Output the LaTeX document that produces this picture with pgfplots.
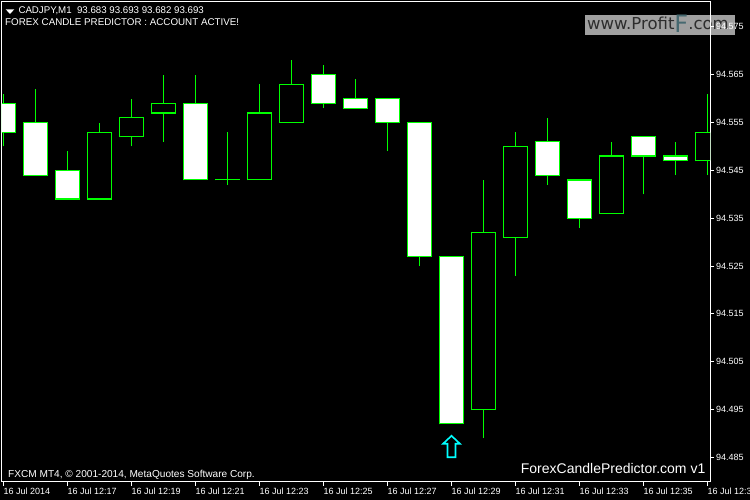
\documentclass[border=0pt]{standalone}
\usepackage{fontspec}
\setmainfont{Liberation Sans}
\newfontfamily\dejavu{DejaVu Sans}
\usepackage{pgfplots}
\usepackage{pgfplotstable}
\pgfplotsset{compat=1.18}

\definecolor{candlegreen}{RGB}{0,255,0}
\definecolor{logogray}{RGB}{160,160,160}
\definecolor{logotext}{RGB}{45,45,45}
\definecolor{logoteal}{RGB}{70,105,112}
\definecolor{arrowcyan}{RGB}{0,255,255}

\pgfdeclareplotmark{uparr}{%
  \pgfpathmoveto{\pgfpoint{0pt}{11pt}}%
  \pgfpathlineto{\pgfpoint{8.5pt}{3pt}}%
  \pgfpathlineto{\pgfpoint{4pt}{3pt}}%
  \pgfpathlineto{\pgfpoint{4pt}{-10.5pt}}%
  \pgfpathlineto{\pgfpoint{-4pt}{-10.5pt}}%
  \pgfpathlineto{\pgfpoint{-4pt}{3pt}}%
  \pgfpathlineto{\pgfpoint{-8.5pt}{3pt}}%
  \pgfpathclose
  \pgfusepathqstroke}

% k = bar index (12:15 = 0), L = low, BL/BH = body low/high, H = high
\pgfplotstableread{
k  L      BL     BH     H
0  94.550 94.553 94.559 94.561
1  94.544 94.544 94.555 94.562
2  94.539 94.539 94.545 94.549
6  94.543 94.543 94.559 94.565
10 94.558 94.559 94.565 94.567
11 94.558 94.558 94.560 94.564
12 94.549 94.555 94.560 94.560
13 94.525 94.527 94.555 94.555
14 94.492 94.492 94.527 94.527
17 94.542 94.544 94.551 94.556
18 94.533 94.535 94.543 94.543
20 94.540 94.548 94.552 94.552
21 94.544 94.547 94.548 94.551
}\bear
\pgfplotstableread{
k  L      BL     BH     H
3  94.539 94.539 94.553 94.555
4  94.550 94.552 94.556 94.560
5  94.551 94.557 94.559 94.565
8  94.543 94.543 94.557 94.563
9  94.555 94.555 94.563 94.568
15 94.489 94.495 94.532 94.543
16 94.523 94.531 94.550 94.553
19 94.536 94.536 94.548 94.551
22 94.544 94.547 94.553 94.561
}\bull
\pgfplotstableread{
k  L      BL     BH     H
7  94.542 94.543 94.543 94.553
}\doji

\pgfplotsset{
  ebar/.style={forget plot, draw=none, mark=none,
    error bars/y dir=plus, error bars/y explicit, error bars/error mark=none,
    error bars/error bar style={draw=#1}},
}

\begin{document}
\begin{tikzpicture}
\useasboundingbox (0,0) rectangle (750pt,500pt);
\clip (0,0) rectangle (750pt,500pt);
\fill[black] (0,0) rectangle (750pt,500pt);

% logo (behind the axis frame)
\fill[logogray] (585pt,465.3pt) rectangle (735pt,485.3pt);
\node[anchor=base west, inner sep=0pt, text=logotext,
      font=\dejavu\fontsize{16.5}{17}\selectfont] at (587pt,470.3pt)
  {www.Profit\raisebox{-3pt}{\color{logoteal}\fontsize{24}{24}\selectfont F}.com};

\begin{axis}[
  at={(2pt,18pt)}, anchor=south west,
  scale only axis, width=708pt, height=480pt,
  xmin=-0.047, xmax=22.078, ymin=94.47984, ymax=94.5802,
  axis line style={white, line width=1pt},
  tick style={white, line width=1pt},
  tick align=outside, major tick length=4pt,
  xtick={0,2,4,6,8,10,12,14,16,18,20,22},
  xticklabels={16 Jul 2014, 16 Jul 12:17, 16 Jul 12:19, 16 Jul 12:21,
    16 Jul 12:23, 16 Jul 12:25, 16 Jul 12:27, 16 Jul 12:29,
    16 Jul 12:31, 16 Jul 12:33, 16 Jul 12:35, 16 Jul 12:37},
  xtick pos=left, ytick pos=right, yticklabel pos=right,
  ytick={94.485,94.495,94.505,94.515,94.525,94.535,94.545,94.555,94.565,94.575},
  scaled y ticks=false,
  yticklabel style={/pgf/number format/fixed, /pgf/number format/fixed zerofill,
    /pgf/number format/precision=3, /pgf/number format/assume math mode=true,
    anchor=west, inner sep=0pt, xshift=2pt},
  ticklabel style={text=white, font=\fontsize{9}{10}\selectfont},
  xticklabel style={anchor=north west, inner sep=0pt, yshift=-2pt},
]
% wicks
\addplot[ebar=candlegreen, error bars/error bar style={line width=1.1pt}]
  table[x=k, y=L, y error plus expr=\thisrow{H}-\thisrow{L}] {\bear};
\addplot[ebar=candlegreen, error bars/error bar style={line width=1.1pt}]
  table[x=k, y=L, y error plus expr=\thisrow{H}-\thisrow{L}] {\bull};
\addplot[ebar=candlegreen, error bars/error bar style={line width=1.1pt}]
  table[x=k, y=L, y error plus expr=\thisrow{H}-\thisrow{L}] {\doji};
% body outlines
\addplot[ebar=candlegreen, error bars/error bar style={line width=25.4pt}]
  table[x=k, y expr=\thisrow{BL}-0.00012,
        y error plus expr=\thisrow{BH}-\thisrow{BL}+0.00024] {\bear};
\addplot[ebar=candlegreen, error bars/error bar style={line width=25.4pt}]
  table[x=k, y expr=\thisrow{BL}-0.00012,
        y error plus expr=\thisrow{BH}-\thisrow{BL}+0.00024] {\bull};
\addplot[ebar=candlegreen, error bars/error bar style={line width=25.4pt}]
  table[x=k, y expr=\thisrow{BL}-0.00012,
        y error plus expr=\thisrow{BH}-\thisrow{BL}+0.00024] {\doji};
% body fills
\addplot[ebar=white, error bars/error bar style={line width=23pt}]
  table[x=k, y expr=\thisrow{BL}+0.00012,
        y error plus expr=\thisrow{BH}-\thisrow{BL}-0.00024] {\bear};
\addplot[ebar=black, error bars/error bar style={line width=23pt}]
  table[x=k, y expr=\thisrow{BL}+0.00012,
        y error plus expr=\thisrow{BH}-\thisrow{BL}-0.00024] {\bull};
% signal arrow
\addplot[only marks, mark=uparr, mark options={draw=arrowcyan, line width=1.6pt}]
  coordinates {(14,94.4872)};
\end{axis}

% header
\fill[white] (5.7pt,490.7pt) -- (14.3pt,490.7pt) -- (10pt,486pt) -- cycle;
\node[anchor=base west, inner sep=0pt, text=white, font=\fontsize{9.7}{10}\selectfont]
  at (18.3pt,486.7pt) {CADJPY,M1\ \ 93.683 93.693 93.682 93.693};
\node[anchor=base west, inner sep=0pt, text=white, font=\fontsize{9.8}{10}\selectfont]
  at (5pt,474pt) {FOREX CANDLE PREDICTOR : ACCOUNT ACTIVE!};
% footers
\node[anchor=base west, inner sep=0pt, text=white, font=\fontsize{10.1}{11}\selectfont]
  at (8pt,22.7pt) {FXCM MT4, © 2001-2014, MetaQuotes Software Corp.};
\node[anchor=base west, inner sep=0pt, text=white, font=\fontsize{14}{16}\selectfont]
  at (520.7pt,26.7pt) {ForexCandlePredictor.com v1};
\end{tikzpicture}
\end{document}
